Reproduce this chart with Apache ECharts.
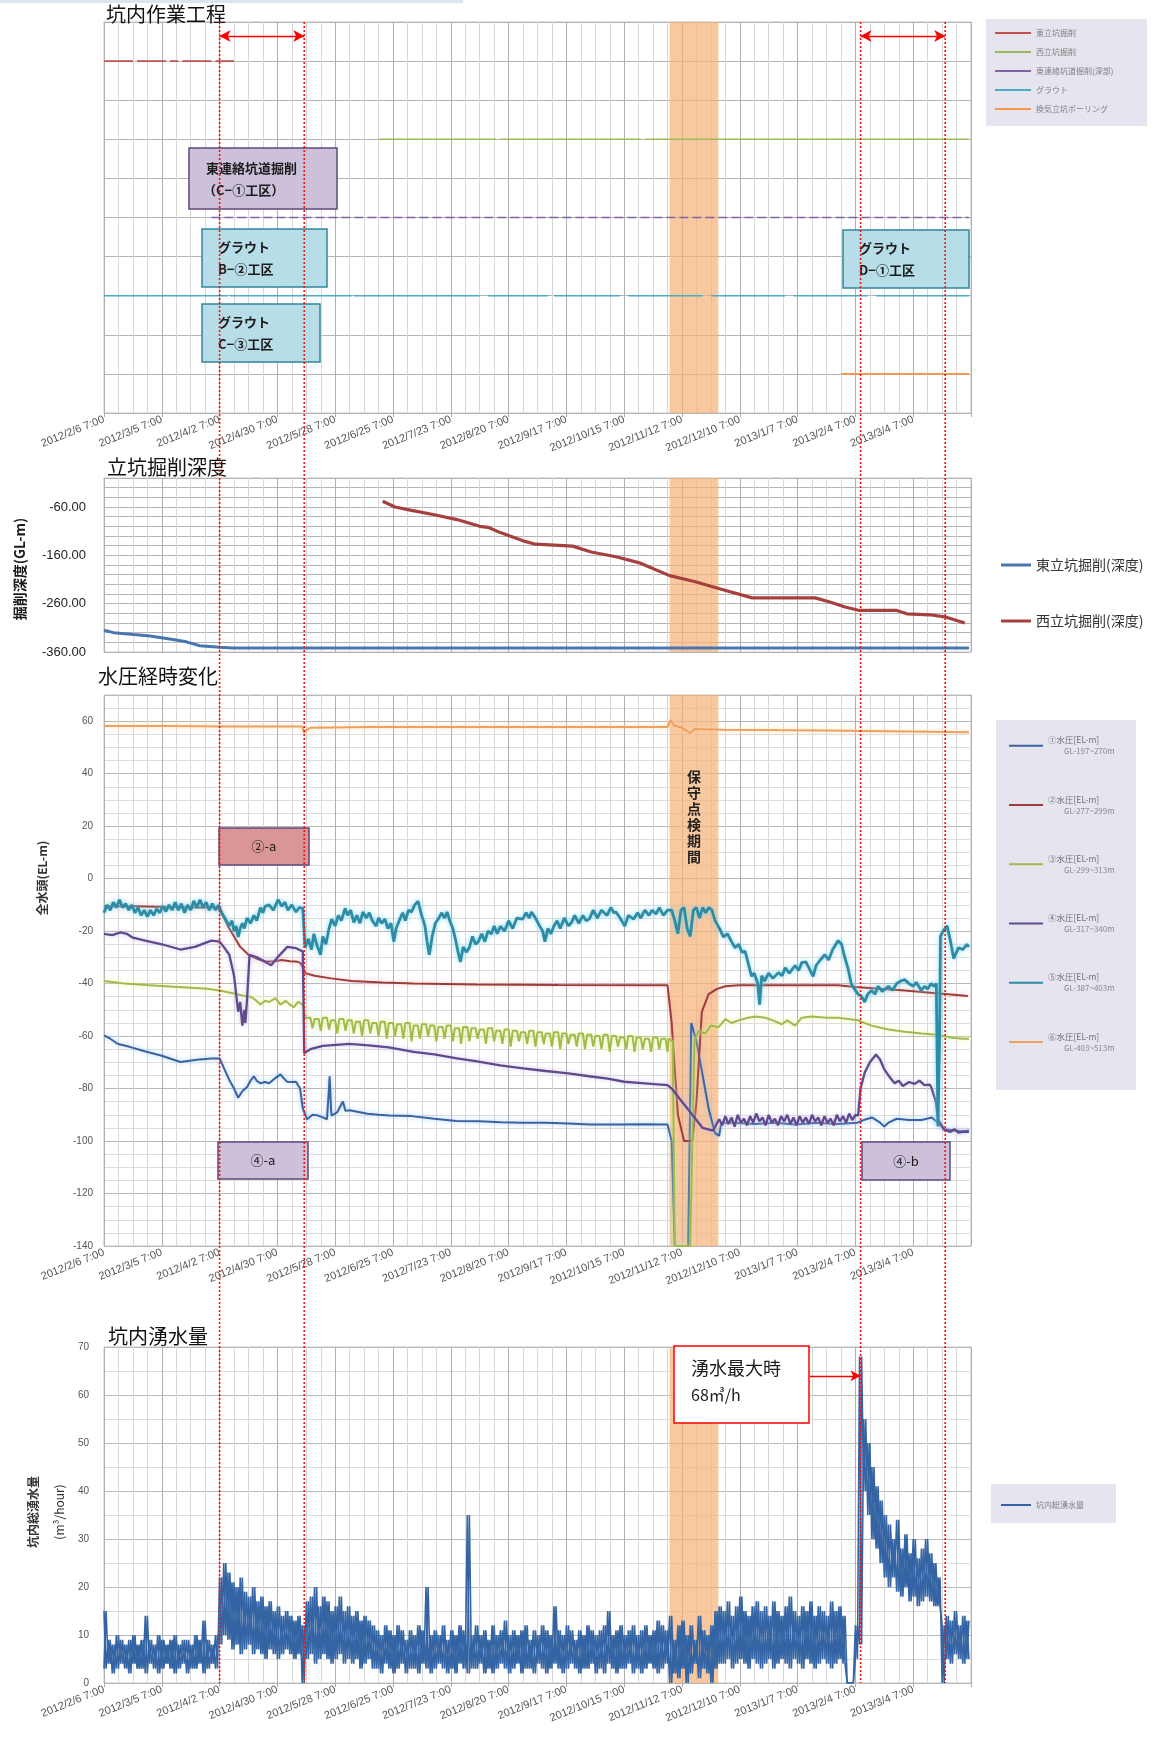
<!DOCTYPE html>
<html>
<head>
<meta charset="utf-8">
<script src="https://cdn.jsdelivr.net/npm/echarts@6/dist/echarts.min.js"></script>
<style>
  html, body { margin: 0; padding: 0; background: #fff; }
  #c { width: 1165px; height: 1749px; }
</style>
</head>
<body>
<div id="c"></div>
<script>
// ---------------------------------------------------------------
// Shared time axis: x values are days counted from 2012/2/6 7:00
// ---------------------------------------------------------------
const dateLabels = [
  '2012/2/6 7:00', '2012/3/5 7:00', '2012/4/2 7:00', '2012/4/30 7:00', '2012/5/28 7:00',
  '2012/6/25 7:00', '2012/7/23 7:00', '2012/8/20 7:00', '2012/9/17 7:00', '2012/10/15 7:00',
  '2012/11/12 7:00', '2012/12/10 7:00', '2013/1/7 7:00', '2013/2/4 7:00', '2013/3/4 7:00'
];
const tickStep = 28;
const axisEnd = 420;
const markerDays = [56, 97, 366.5, 407.5];          // 2012/4/2, 2012/5/13, 2013/2/6, 2013/3/19
const maintenanceDays = [274, 297.6];               // 保守点検期間

// ---------------- 坑内作業工程 (work schedule) ----------------
const taskNames = ['東立坑掘削', '西立坑掘削', '東連絡坑道掘削(深部)', 'グラウト', '換気立坑ボーリング'];
const taskColors = ['#c0504d', '#9bbb59', '#8064a2', '#4bacc6', '#f79646'];
const taskRows = [9, 7, 5, 3, 1];
const spansEastShaft = [[0, 14], [16, 30], [32, 36], [38, 52], [54, 63]];
const spansWestShaft = [[133, 190], [192, 260], [262, 419]];
const spansEastTunnel = [[52, 419]];
const spansGrout = [[0, 60], [61, 120], [121, 182], [186, 215], [218, 250], [254, 290], [294, 330], [334, 370], [374, 419]];
const spansBoring = [[357, 419]];
const taskArrows = [[56, 97], [366.5, 407.5]];

// ---------------- 立坑掘削深度 (shaft depth, GL-m) ----------------
const depthNames = ['東立坑掘削(深度)', '西立坑掘削(深度)'];
const depthEast = [[0, -315], [4.6, -320], [14.3, -324], [22.3, -327], [33.4, -334], [39.9, -339],
  [46.4, -347], [56, -350], [62.5, -351.5], [419, -351.5]];
const depthWest = [[135, -48], [141, -60], [149, -67], [160, -76], [171, -86], [182, -100], [186, -102],
  [192, -113], [203, -130], [209, -137], [218, -139], [227, -141], [236, -153], [248, -163], [259, -175],
  [274, -202], [286, -214], [299, -230], [314, -248], [344.5, -248], [352, -257], [359, -267], [366, -274],
  [384, -274], [389, -281], [400, -283], [408, -288], [417, -300]];

// ---------------- 水圧経時変化 (pore pressure head, EL-m) ----------------
const wpNames = ['①水圧[EL-m]', '②水圧[EL-m]', '③水圧[EL-m]', '④水圧[EL-m]', '⑤水圧[EL-m]', '⑥水圧[EL-m]'];
const wpDepths = ['GL-197~270m', 'GL-277~299m', 'GL-299~313m', 'GL-317~340m', 'GL-387~403m', 'GL-403~513m'];
const wpColors = ['#3b62a0', '#9c3d3a', '#9fba4e', '#5f4b8b', '#2f8aa3', '#eda15f'];
const wpGlow = ['rgba(150,200,240,0.9)', 'rgba(240,170,170,0.7)', 'rgba(235,245,150,0.9)',
  'rgba(200,185,235,0.8)', 'rgba(120,215,240,0.9)', 'rgba(252,215,170,0.9)'];
const wpWidths = [2, 2, 2, 2.3, 2.8, 2];

const wp1 = [[0, -59.7], [3, -61], [6.8, -63], [12, -64], [19.7, -65.8], [28, -67.5], [37, -69.9], [45, -69],
  [52, -68.5], [56, -68.5], [58, -72], [60.7, -76.7], [63, -80], [65, -83.5], [67, -81], [69.3, -79.4], [71, -77],
  [72.6, -75.3], [74, -77], [75.8, -78], [78, -77.5], [80, -78], [83, -76], [85.5, -74.6], [87, -76], [88.7, -77.4],
  [91, -77.5], [93, -77.4], [95, -80], [96.3, -87.6], [98.4, -91.7], [101, -90], [103.8, -90.3], [106, -91],
  [108, -91.7], [109, -80], [109.3, -75.3], [110, -88], [110.3, -90.3], [113, -89], [115.7, -84.9], [117, -88.5],
  [119, -88.3], [124, -89], [127.6, -89.6], [133, -90], [138.4, -90.3], [149, -90.5], [160, -91.5], [170.7, -92.4],
  [182, -92.5], [192.3, -92.8], [203, -93], [213.8, -93], [225, -93.3], [235.4, -93.7], [250, -93.7], [262, -93.6],
  [273, -93.7], [275, -100], [276.5, -140], [283, -140], [284.5, -55], [287, -62], [290, -75], [293, -88], [296, -97],
  [298, -98], [299, -93], [305, -93], [315, -93.5], [325, -93], [335, -93.7], [345, -93], [355, -93.5], [365, -93],
  [368, -92], [372, -91], [376, -93], [378, -94.5], [380, -93], [384, -91.5], [390, -92], [396, -92], [401, -91],
  [404, -93], [407, -95.5], [412, -96], [416, -96.4], [419, -96]];

const wp2 = [[0, -10.5], [15, -10.5], [30, -10.8], [45, -11], [55, -11], [57, -13], [60, -18], [63, -22], [66, -26],
  [70, -29], [74, -30.5], [78, -31.5], [82, -31.6], [86, -31], [90, -31.5], [93, -31.6], [95, -32], [96.5, -34],
  [97.5, -36], [102, -37], [110, -38], [120, -39], [135, -39.6], [150, -40], [180, -40.3], [220, -40.5],
  [273, -40.6], [275, -55], [278, -90], [281, -100], [285, -100], [287, -85], [289.6, -50.8], [292.9, -44],
  [297, -42], [301, -41], [307.4, -40.6], [355.7, -40.6], [363.7, -41.3], [387.9, -42.6], [418.5, -44.7]];

// ③: before the comb, the comb itself (top / low per 4-day step), and after
const wp3Head = [[0, -39], [5, -39.5], [10, -40], [20, -40.5], [30, -41], [40, -41.5], [50, -42], [56, -42.6],
  [63, -43.8], [67, -44.5], [71, -45], [73, -46], [75.8, -48], [78, -46.5], [80, -47], [83, -45.5], [85.5, -48],
  [88, -46.5], [90, -48], [92, -49], [94, -47], [96.3, -48], [97.5, -53]];
const wp3SawStart = 98;
const wp3SawStep = 4;
const wp3SawTop = [-53, -53.5, -53, -54, -53.5, -54, -54.5, -54, -55, -54.5, -55, -55.5, -55, -56, -55.5, -56,
  -56.5, -56, -57, -56.5, -57, -57.5, -57, -58, -57.5, -58, -58.5, -58, -58.5, -59, -58.5, -59, -59.5, -59, -59.5,
  -60, -59.5, -60, -60.5, -60, -60.5, -61, -60.5, -61];
const wp3SawLow = [-57, -58, -57.5, -59, -58, -59, -60, -59, -60, -61, -60, -61, -62, -61, -60, -62, -61, -62,
  -63, -62, -61, -63, -62, -63, -64, -62, -63, -64, -63, -64, -65, -63, -64, -65, -64, -65, -66, -64, -65, -66,
  -65, -66, -65, -66];
const wp3Tail = [[273.5, -61], [275.5, -62], [276.5, -140], [284, -140], [286, -62], [288, -58], [291.3, -59],
  [294, -56], [297.7, -56.6], [301, -53.5], [304, -55], [307.4, -54], [312, -53], [316, -52.5], [320.3, -53],
  [324, -54], [328.3, -55.5], [331, -54], [334.8, -56], [338, -53], [342.8, -52.5], [350, -53], [355.7, -53],
  [365.3, -54], [371.8, -56], [380, -57.5], [387.9, -58.3], [396, -59], [404, -59.5], [410, -60.5], [416, -61],
  [419, -61]];

const wp4 = [[0, -21], [4, -21.5], [8, -20.5], [11, -21], [14, -22.5], [20, -23.6], [28, -25], [37, -27], [44, -26],
  [52, -23.6], [56, -24], [58, -26], [60.7, -29], [63, -37], [64, -44], [65, -50.7], [66, -47], [67, -56], [68, -50],
  [68.5, -55], [69.3, -46], [70.5, -29], [74, -30], [78, -31.7], [81, -33], [84.4, -29.7], [88.8, -26], [93, -26.5],
  [96.3, -27.7], [97, -66.5], [100, -65], [106, -63.7], [119, -63], [128, -63.5], [138, -64.3], [150, -66],
  [160, -67], [171, -68.5], [180, -69.5], [192, -71.2], [203, -72.3], [214, -73.3], [225, -74.2], [235, -75.3],
  [244, -76.2], [252, -77.4], [262, -78], [273, -78.7], [275, -80], [280, -85], [285, -90], [290, -95], [295, -96],
  [298, -91.7], [299.5, -94], [301, -90.5], [302.5, -93.5], [304, -91], [305.5, -94.5], [307, -90], [308.5, -93],
  [310, -91.5], [311.5, -94], [313, -90.5], [314.5, -93], [316, -89.5], [317.5, -92.5], [319, -91], [320.5, -94],
  [322, -90], [323.5, -93], [325, -91.5], [326.5, -94], [328, -90.5], [329.5, -92.5], [331, -90], [332.5, -93.5],
  [334, -91], [335.5, -94], [337, -90.5], [338.5, -93], [340, -91], [341.5, -93.5], [343, -90], [344.5, -92.5],
  [346, -91], [347.5, -94], [349, -90.5], [350.5, -93], [352, -91.5], [353.5, -94], [355, -90], [356.5, -92.5],
  [358, -90.5], [359.5, -93], [361, -89.5], [362.5, -92], [364, -90], [365.3, -90.3], [366.5, -80], [368.5, -74],
  [371, -70], [374, -67], [376, -69], [378, -72.7], [380, -75], [383, -78], [385, -77], [387, -79], [390, -77.5],
  [392.7, -78.2], [395, -77], [397.5, -78.7], [400, -78.5], [400.7, -79.4], [403, -85], [404, -91.7], [407, -95.7],
  [410, -96.5], [412, -95.5], [414, -96.8], [416, -96.4], [419, -96.5]];

const wp5 = [[0, -13], [1.5, -10], [3, -12], [4.5, -9], [6, -11], [7.5, -8], [9, -11], [10.5, -9.5], [12, -12],
  [13.5, -10], [15, -13], [16.5, -11], [18, -14], [19.5, -12], [21, -14.5], [22.5, -12], [24, -14], [25.5, -11.5],
  [27, -13], [28.5, -10.5], [30, -12.5], [31.5, -10], [33, -12], [34.5, -9], [36, -12], [37.5, -9.5], [39, -13],
  [40.5, -10], [42, -12], [43.5, -8.5], [45, -11], [46.5, -8], [48, -11], [49.5, -9], [51, -12], [52.5, -9.5],
  [54, -12], [55.5, -10], [57, -13], [58.5, -15], [60.7, -18], [62, -16], [63, -20], [64, -18], [65, -22.2],
  [66, -19], [67, -17], [68, -19], [69.3, -15], [71, -17], [72.6, -14], [74, -16], [75.8, -11], [77, -13],
  [78, -10.5], [80, -10], [82, -12], [84.4, -8], [86, -10.5], [87.7, -9], [89, -12], [91, -10], [93, -12.7],
  [94.5, -11], [96.3, -11.3], [97.4, -26.3], [99, -23], [100.5, -27], [101.7, -21], [103, -25], [104.9, -29],
  [106, -22], [107.5, -25], [109, -19], [110.3, -15.4], [112, -18], [113.5, -14], [115, -16], [116.8, -11.3],
  [118, -14], [119.5, -12], [121, -16.7], [122.5, -14], [124, -17], [125.4, -12.7], [127, -15], [128.5, -13],
  [130, -16], [131.8, -18.1], [133, -15], [134.5, -17], [136.1, -15.4], [137.5, -19], [139, -17], [140.4, -24],
  [141.5, -19], [143, -16], [144.7, -13], [146, -16], [147.5, -12], [149, -12.7], [150.5, -10], [152.2, -8.6],
  [153.5, -13], [155.5, -18.1], [156.5, -24], [157.6, -29], [159, -22], [160.5, -17], [161.9, -15.4], [163.5, -13],
  [165, -15], [166.2, -12.7], [167.5, -16], [169, -19], [170.5, -24], [171.5, -28], [172.7, -31.7], [174, -26],
  [175.5, -28], [177, -26.3], [178.5, -22], [180, -25], [181.3, -24], [183, -21], [184.5, -24], [186, -20],
  [187.7, -21], [189, -18], [190.5, -21], [192, -18.1], [194, -20], [196, -16], [198, -19], [200, -15],
  [202.8, -15.4], [204.5, -13], [206, -15], [207.1, -12.7], [209, -15], [211, -18], [212.5, -20], [213.6, -24],
  [215, -19], [216.5, -21], [217.9, -18.1], [219.5, -16], [221, -19], [223, -15], [225, -18], [226.5, -16.7],
  [228, -14], [230, -17], [232, -14], [233.5, -16], [235.1, -15.4], [237, -12], [239, -15], [241, -12],
  [243.7, -14], [245.5, -11], [247, -13], [248, -12.7], [250, -15], [252.3, -18.1], [254, -14], [256.6, -15.4],
  [258.5, -13], [260, -15], [262, -12], [264, -14], [265.5, -12], [267.4, -13.5], [269, -11], [271, -14],
  [273, -12], [275, -12], [276.5, -16], [278, -21], [279.5, -12], [281, -11], [282.5, -19], [284, -22],
  [285.5, -12], [287, -11], [288.5, -15], [290, -11], [291.5, -13], [293, -11], [294.5, -12], [296, -16],
  [297.5, -18], [298.5, -19.5], [300, -22.2], [302, -21], [304, -24], [305.7, -26.3], [307.5, -25], [309, -28],
  [310.6, -27.7], [312, -32], [313.7, -37.2], [315, -36], [316.7, -39.9], [317.6, -48], [318.6, -37], [320, -39],
  [322, -36], [324, -38], [326.7, -35.8], [328.5, -37], [330, -34], [332, -36], [334.8, -33.1], [336.5, -35],
  [338, -32], [340, -31.7], [341.5, -34], [343.5, -37.2], [345, -33], [347, -31], [349.2, -29], [351, -31],
  [353, -27], [355.7, -23.6], [357.3, -25], [358.5, -29], [360.5, -34.5], [362, -40], [363.5, -42], [365.3, -44],
  [367, -45], [368.5, -47], [370, -44], [371.8, -42.6], [373.5, -44], [375, -41], [377, -43], [380, -41],
  [382, -42.5], [384, -40], [386, -39], [387.9, -38.5], [390, -40], [392, -41], [393.5, -39.5], [395.9, -42.6],
  [397.5, -41], [399, -42], [400.7, -40], [402, -41], [403.2, -40], [404, -94.4], [404.8, -60], [405.2, -22],
  [406.5, -20], [408.4, -18], [410, -23.6], [411.6, -30.4], [413, -28], [414, -26.3], [416, -27], [418, -25],
  [419, -26]];

const wp6 = [[0, 58.2], [30, 58.2], [60, 58], [96, 58], [97, 55.5], [98, 56.7], [100, 57.5], [130, 57.8],
  [200, 57.8], [273, 57.8], [274.5, 60.5], [276, 58.5], [280, 57.5], [284, 55.5], [286, 57], [300, 56.8],
  [350, 56.5], [419, 55.8]];

// ---------------- 坑内湧水量 (inflow, m3/hour) ----------------
// one low / high pair per two days
const flowName = '坑内総湧水量';
const flowLow = [
  3, 4, 2, 3, 4, 3, 2, 4, 3, 3,
  2, 4, 3, 2, 3, 4, 3, 2, 3, 4,
  2, 3, 3, 4, 2, 3, 4, 3, 8, 10,
  9, 7, 8, 6, 7, 8, 6, 7, 6, 5,
  7, 6, 5, 6, 7, 6, 5, 6, 0, 5,
  6, 4, 5, 6, 5, 4, 5, 6, 4, 5,
  4, 5, 3, 4, 5, 3, 3, 2, 4, 3,
  2, 3, 4, 2, 3, 3, 2, 4, 3, 2,
  3, 4, 3, 2, 3, 2, 4, 3, 2, 3,
  3, 4, 2, 3, 2, 3, 4, 3, 2, 3,
  4, 2, 3, 3, 2, 4, 3, 2, 3, 4,
  3, 2, 3, 4, 3, 2, 3, 3, 4, 2,
  3, 2, 4, 3, 2, 3, 3, 4, 2, 3,
  2, 3, 4, 3, 2, 3, 4, 0, 2, 1,
  3, 0, 2, 4, 1, 3, 2, 0, 3, 4,
  4, 5, 3, 4, 5, 4, 3, 5, 4, 3,
  4, 5, 3, 4, 5, 4, 3, 5, 4, 3,
  5, 4, 3, 4, 5, 4, 3, 4, 5, 4,
  0, 0, 5, 8, 40, 35, 30, 28, 25, 22,
  20, 22, 19, 18, 20, 17, 18, 16, 17, 18,
  17, 16, 16, 0, 5, 4, 6, 5, 4, 5
];
const flowHigh = [
  15, 9, 8, 10, 9, 8, 9, 10, 8, 9,
  14, 9, 8, 10, 9, 8, 9, 10, 8, 9,
  9, 8, 10, 9, 13, 9, 8, 10, 22, 25,
  23, 21, 20, 22, 19, 18, 20, 17, 18, 16,
  17, 15, 16, 14, 15, 14, 13, 14, 12, 17,
  18, 20, 16, 18, 17, 15, 16, 18, 15, 16,
  14, 15, 13, 14, 13, 12, 11, 10, 12, 11,
  10, 12, 11, 9, 11, 10, 12, 11, 20, 10,
  11, 10, 12, 9, 11, 10, 12, 11, 35, 10,
  12, 10, 11, 9, 12, 10, 11, 13, 10, 11,
  10, 11, 12, 9, 11, 10, 12, 11, 10, 16,
  11, 10, 12, 11, 9, 11, 10, 12, 11, 10,
  11, 12, 15, 10, 11, 12, 10, 11, 12, 10,
  11, 12, 10, 11, 13, 12, 11, 14, 9, 12,
  13, 10, 12, 9, 14, 11, 10, 12, 15, 16,
  15, 17, 14, 16, 18, 15, 14, 16, 17, 15,
  16, 14, 17, 15, 14, 16, 18, 15, 14, 16,
  15, 17, 14, 16, 15, 14, 17, 15, 16, 14,
  0, 0, 12, 68, 55, 50, 45, 41, 38, 35,
  33, 30, 34, 28, 31, 27, 30, 26, 28, 30,
  27, 25, 22, 12, 14, 13, 15, 12, 14, 13
];
const peakFlow = 68;
const peakFlowDay = 367;
const peakArrowFrom = 342;

// ---------------------------------------------------------------
const FONT = '"Noto Sans CJK JP", "Noto Sans", sans-serif';
const BAND = 'rgba(247,176,118,0.7)';

function fmtDate(v) {
  const i = Math.round(v / tickStep);
  if (Math.abs(v - i * tickStep) > 1e-6 || i >= dateLabels.length) return '';
  return dateLabels[i];
}

function spansToData(spans, row) {
  const out = [];
  spans.forEach(([s, e]) => { out.push([s, row], [e, row], [e, '-']); });
  return out;
}

function sawData() {
  const out = [];
  wp3SawTop.forEach((t, k) => {
    const d = wp3SawStart + k * wp3SawStep;
    out.push([d, t], [d + 2, t], [d + 3, wp3SawLow[k]]);
  });
  return out;
}

// trace through each two-day pair: low first (phase 0) or high first (phase 1)
function flowData(phase) {
  const out = [];
  flowLow.forEach((lo, i) => {
    const hi = flowHigh[i];
    if (phase === 0) out.push([2 * i, lo], [2 * i + 1, hi]);
    else out.push([2 * i, hi], [2 * i + 1, lo]);
  });
  return out;
}

const gridBoxes = [
  { top: 22, height: 391 },
  { top: 478, height: 174 },
  { top: 695, height: 551 },
  { top: 1347, height: 336 }
];

const grid = gridBoxes.map(g => ({
  left: 104, width: 867, top: g.top, height: g.height,
  show: true, borderColor: '#c4c4c4', borderWidth: 1,
  outerBoundsMode: 'none', containLabel: false
}));

function makeXAxis(i, showLabels) {
  return {
    type: 'value', gridIndex: i, min: 0, max: axisEnd, interval: tickStep,
    axisLine: { show: false },
    axisTick: { show: showLabels, length: 4, lineStyle: { color: '#aaaaaa' } },
    axisLabel: {
      show: showLabels, rotate: 22, fontSize: 11, color: '#555', margin: 6,
      fontFamily: 'Liberation Sans', formatter: fmtDate, hideOverlap: false,
      showMinLabel: true, showMaxLabel: true
    },
    splitLine: { show: true, lineStyle: { color: '#b0b0b0', width: 1 } },
    minorTick: { show: false, splitNumber: 4 },
    minorSplitLine: { show: true, lineStyle: { color: '#d8d8d8', width: 1 } }
  };
}

const yAxis = [
  {
    type: 'value', gridIndex: 0, min: 0, max: 10, interval: 1,
    axisLabel: { show: false }, axisLine: { show: false }, axisTick: { show: false },
    splitLine: { lineStyle: { color: '#b4b4b4' } }
  },
  {
    type: 'value', gridIndex: 1, min: -360, max: 0, interval: 20,
    axisLine: { show: false }, axisTick: { show: false },
    axisLabel: {
      fontSize: 13, color: '#222', margin: 18, fontFamily: 'Liberation Sans',
      formatter: v => ((v + 360) % 100 === 0 ? v.toFixed(2) : '')
    },
    splitLine: { lineStyle: { color: '#b4b4b4' } }
  },
  {
    type: 'value', gridIndex: 2, min: -140, max: 70, interval: 20,
    axisLine: { show: false }, axisTick: { show: false },
    axisLabel: { fontSize: 10, color: '#555', margin: 11, fontFamily: 'Liberation Sans',
      formatter: v => (v > 60 ? '' : String(v)) },
    splitLine: { lineStyle: { color: '#b8b8b8' } },
    minorTick: { show: false, splitNumber: 4 },
    minorSplitLine: { show: true, lineStyle: { color: '#dedede' } }
  },
  {
    type: 'value', gridIndex: 3, min: 0, max: 70, interval: 10,
    axisLine: { show: false }, axisTick: { show: false },
    axisLabel: { fontSize: 10, color: '#555', margin: 15, fontFamily: 'Liberation Sans' },
    splitLine: { lineStyle: { color: '#b8b8b8' } },
    minorTick: { show: false, splitNumber: 2 },
    minorSplitLine: { show: true, lineStyle: { color: '#dedede' } }
  }
];

function bandSeries(i, extra) {
  return Object.assign({
    name: '_band' + i, type: 'line', xAxisIndex: i, yAxisIndex: i, data: [],
    z: 10, silent: true, symbol: 'none',
    markArea: {
      silent: true, itemStyle: { color: BAND },
      data: [[{ xAxis: maintenanceDays[0] }, { xAxis: maintenanceDays[1] }]]
    }
  }, extra || {});
}

const series = [];

// work schedule rows
[spansEastShaft, spansWestShaft, spansEastTunnel, spansGrout, spansBoring].forEach((sp, k) => {
  series.push({
    name: taskNames[k], type: 'line', xAxisIndex: 0, yAxisIndex: 0,
    data: spansToData(sp, taskRows[k]), symbol: 'none', connectNulls: false,
    color: taskColors[k],
    lineStyle: { color: taskColors[k], width: 1.6, type: k === 2 ? [9, 4] : 'solid' }
  });
});
series.push(bandSeries(0, {
  markLine: {
    silent: true, symbol: ['arrow', 'arrow'], symbolSize: [9, 11],
    lineStyle: { color: '#ff0000', width: 1.4, type: 'solid' },
    label: { show: false },
    data: taskArrows.map(([a, b]) => [{ coord: [a, 9.64] }, { coord: [b, 9.64] }])
  }
}));

// shaft depth
series.push({
  name: depthNames[0], type: 'line', xAxisIndex: 1, yAxisIndex: 1, data: depthEast,
  symbol: 'none', color: '#4a76b0', lineStyle: { color: '#4a76b0', width: 3 }
});
series.push({
  name: depthNames[1], type: 'line', xAxisIndex: 1, yAxisIndex: 1, data: depthWest,
  symbol: 'none', color: '#a5403d', lineStyle: { color: '#a5403d', width: 3.2 }
});
series.push(bandSeries(1));

// pore pressure
const wp3 = wp3Head.concat(sawData(), wp3Tail);
[wp1, wp2, wp3, wp4, wp5, wp6].forEach((d, k) => {
  series.push({
    name: wpNames[k], type: 'line', xAxisIndex: 2, yAxisIndex: 2, data: d,
    symbol: 'none', color: wpColors[k],
    lineStyle: { color: wpColors[k], width: wpWidths[k], shadowColor: wpGlow[k], shadowBlur: 5 }
  });
});
series.push(bandSeries(2, {
  markArea: {
    silent: true, itemStyle: { color: BAND },
    label: {
      show: true, position: 'insideTop', distance: 74,
      formatter: '保\n守\n点\n検\n期\n間',
      fontSize: 14, lineHeight: 16, color: '#222', fontWeight: 'bold', fontFamily: FONT
    },
    data: [[{ xAxis: maintenanceDays[0] }, { xAxis: maintenanceDays[1] }]]
  }
}));

// inflow: two interleaved traces of the same readings give the dense band
[0, 1].forEach(ph => {
  series.push({
    name: flowName, type: 'line', xAxisIndex: 3, yAxisIndex: 3, data: flowData(ph),
    symbol: 'none', color: '#3464a3', lineStyle: { color: '#3464a3', width: 1.6 }
  });
});
series.push(bandSeries(3, {
  markLine: {
    silent: true, symbol: ['none', 'arrow'], symbolSize: [8, 10],
    lineStyle: { color: '#ff0000', width: 1.4, type: 'solid' },
    label: { show: false },
    data: [[{ coord: [peakArrowFrom, peakFlow - 4] }, { coord: [peakFlowDay - 0.5, peakFlow - 4] }]]
  }
}));

const legend = [
  {
    data: taskNames, orient: 'vertical', left: 990, top: 24, icon: 'rect',
    itemWidth: 36, itemHeight: 2, itemGap: 11,
    textStyle: { fontSize: 8, color: '#808080', fontFamily: FONT }
  },
  {
    data: depthNames, orient: 'vertical', left: 996, top: 553, icon: 'rect',
    itemWidth: 30, itemHeight: 3, itemGap: 42,
    textStyle: { fontSize: 14, color: '#333', fontFamily: FONT }
  },
  {
    data: wpNames, orient: 'vertical', left: 1004, top: 731, icon: 'rect',
    itemWidth: 34, itemHeight: 2, itemGap: 40,
    formatter: name => '{a|' + name + '}\n{b|' + wpDepths[wpNames.indexOf(name)] + '}',
    textStyle: {
      fontFamily: FONT,
      rich: {
        a: { fontSize: 8.5, color: '#707070', lineHeight: 11 },
        b: { fontSize: 8, color: '#8a8a8a', lineHeight: 11, padding: [0, 0, 0, 16] }
      }
    }
  },
  {
    data: [flowName], orient: 'vertical', left: 996, top: 1496, icon: 'rect',
    itemWidth: 30, itemHeight: 2,
    textStyle: { fontSize: 8, color: '#808080', fontFamily: FONT }
  }
];

const titleStyle = { fontSize: 20, fontWeight: 'normal', color: '#111', fontFamily: FONT };
const title = [
  { text: '坑内作業工程', left: 106, top: 4 },
  { text: '立坑掘削深度', left: 107, top: 457 },
  { text: '水圧経時変化', left: 98, top: 666 },
  { text: '坑内湧水量', left: 108, top: 1326 }
].map(t => Object.assign(t, { padding: 0, textStyle: titleStyle }));

const chart = echarts.init(document.getElementById('c'), null, { renderer: 'canvas' });
chart.setOption({
  animation: false,
  backgroundColor: '#ffffff',
  textStyle: { fontFamily: FONT },
  title, grid, legend,
  xAxis: [makeXAxis(0, true), makeXAxis(1, false), makeXAxis(2, true), makeXAxis(3, true)],
  yAxis, series
});

// ---------------- overlay: annotation boxes, axis names, date markers ----------------
const g = [];

function rect(x, y, w, h, fill, stroke, z) {
  g.push({ type: 'rect', z: z, silent: true, shape: { x, y, width: w, height: h },
    style: { fill, stroke: stroke || null, lineWidth: stroke ? 1.5 : 0 } });
}
function text(x, y, str, size, opts) {
  const o = opts || {};
  g.push({ type: 'text', z: o.z || 60, silent: true, x, y, rotation: o.rotation || 0,
    style: { text: str, fill: o.color || '#1a1a1a', fontSize: size, fontFamily: FONT,
      fontWeight: o.weight || 'normal', align: o.align || 'left', verticalAlign: 'middle' } });
}

// legend backgrounds
rect(986, 19, 161, 107, '#e6e4ee', null, 1);
rect(996, 720, 140, 370, '#e6e4ee', null, 1);
rect(991, 1484, 125, 39, '#e6e4ee', null, 1);
// page strip
rect(0, 0, 463, 3, '#dbe5f1', null, 1);

// work area boxes
rect(189, 148, 148, 61, '#ccc0da', '#5f497a', 50);
text(206, 168, '東連絡坑道掘削', 13, { weight: 'bold' });
text(203, 190, '（C−①工区）', 13, { weight: 'bold' });
rect(202, 229, 125, 58, '#b7dee8', '#31859c', 50);
text(218, 247, 'グラウト', 13, { weight: 'bold' });
text(218, 269, 'B−②工区', 13, { weight: 'bold' });
rect(202, 304, 118, 58, '#b7dee8', '#31859c', 50);
text(218, 322, 'グラウト', 13, { weight: 'bold' });
text(218, 344, 'C−③工区', 13, { weight: 'bold' });
rect(843, 230, 126, 58, '#b7dee8', '#31859c', 50);
text(859, 248, 'グラウト', 13, { weight: 'bold' });
text(859, 270, 'D−①工区', 13, { weight: 'bold' });

// pressure zone tags
rect(219, 828, 90, 37, '#da9694', '#604a7b', 50);
text(264, 846.5, '②-a', 13, { align: 'center' });
rect(218, 1142, 90, 37, '#ccc0da', '#604a7b', 50);
text(263, 1160.5, '④-a', 13, { align: 'center' });
rect(862, 1142, 88, 38, '#ccc0da', '#604a7b', 50);
text(906, 1161, '④-b', 13, { align: 'center' });

// peak inflow note
rect(674, 1346, 135, 77, '#ffffff', '#ff0000', 50);
text(691, 1368, '湧水最大時', 18);
text(691, 1395, peakFlow + '㎥/h', 16);

// axis names
text(20, 569, '掘削深度(GL-m)', 14, { weight: 'bold', align: 'center', rotation: Math.PI / 2 });
text(42, 878, '全水頭(EL-m)', 12, { weight: 'bold', align: 'center', rotation: Math.PI / 2, color: '#333' });
text(33, 1512, '坑内総湧水量', 12, { weight: 'bold', align: 'center', rotation: Math.PI / 2, color: '#333' });
text(59, 1512, '(m³/hour)', 12, { align: 'center', rotation: Math.PI / 2, color: '#333' });

// red dotted date markers through all four panels
const yTop = chart.convertToPixel({ yAxisIndex: 0 }, 10);
const yBottom = chart.convertToPixel({ yAxisIndex: 3 }, 0);
markerDays.forEach(d => {
  const x = chart.convertToPixel({ xAxisIndex: 0 }, d);
  g.push({ type: 'line', z: 100, silent: true,
    shape: { x1: x, y1: yTop, x2: x, y2: yBottom },
    style: { stroke: '#ff1010', lineWidth: 1.6, lineDash: [2, 2] } });
});

chart.setOption({ graphic: { elements: g } });
</script>
</body>
</html>
